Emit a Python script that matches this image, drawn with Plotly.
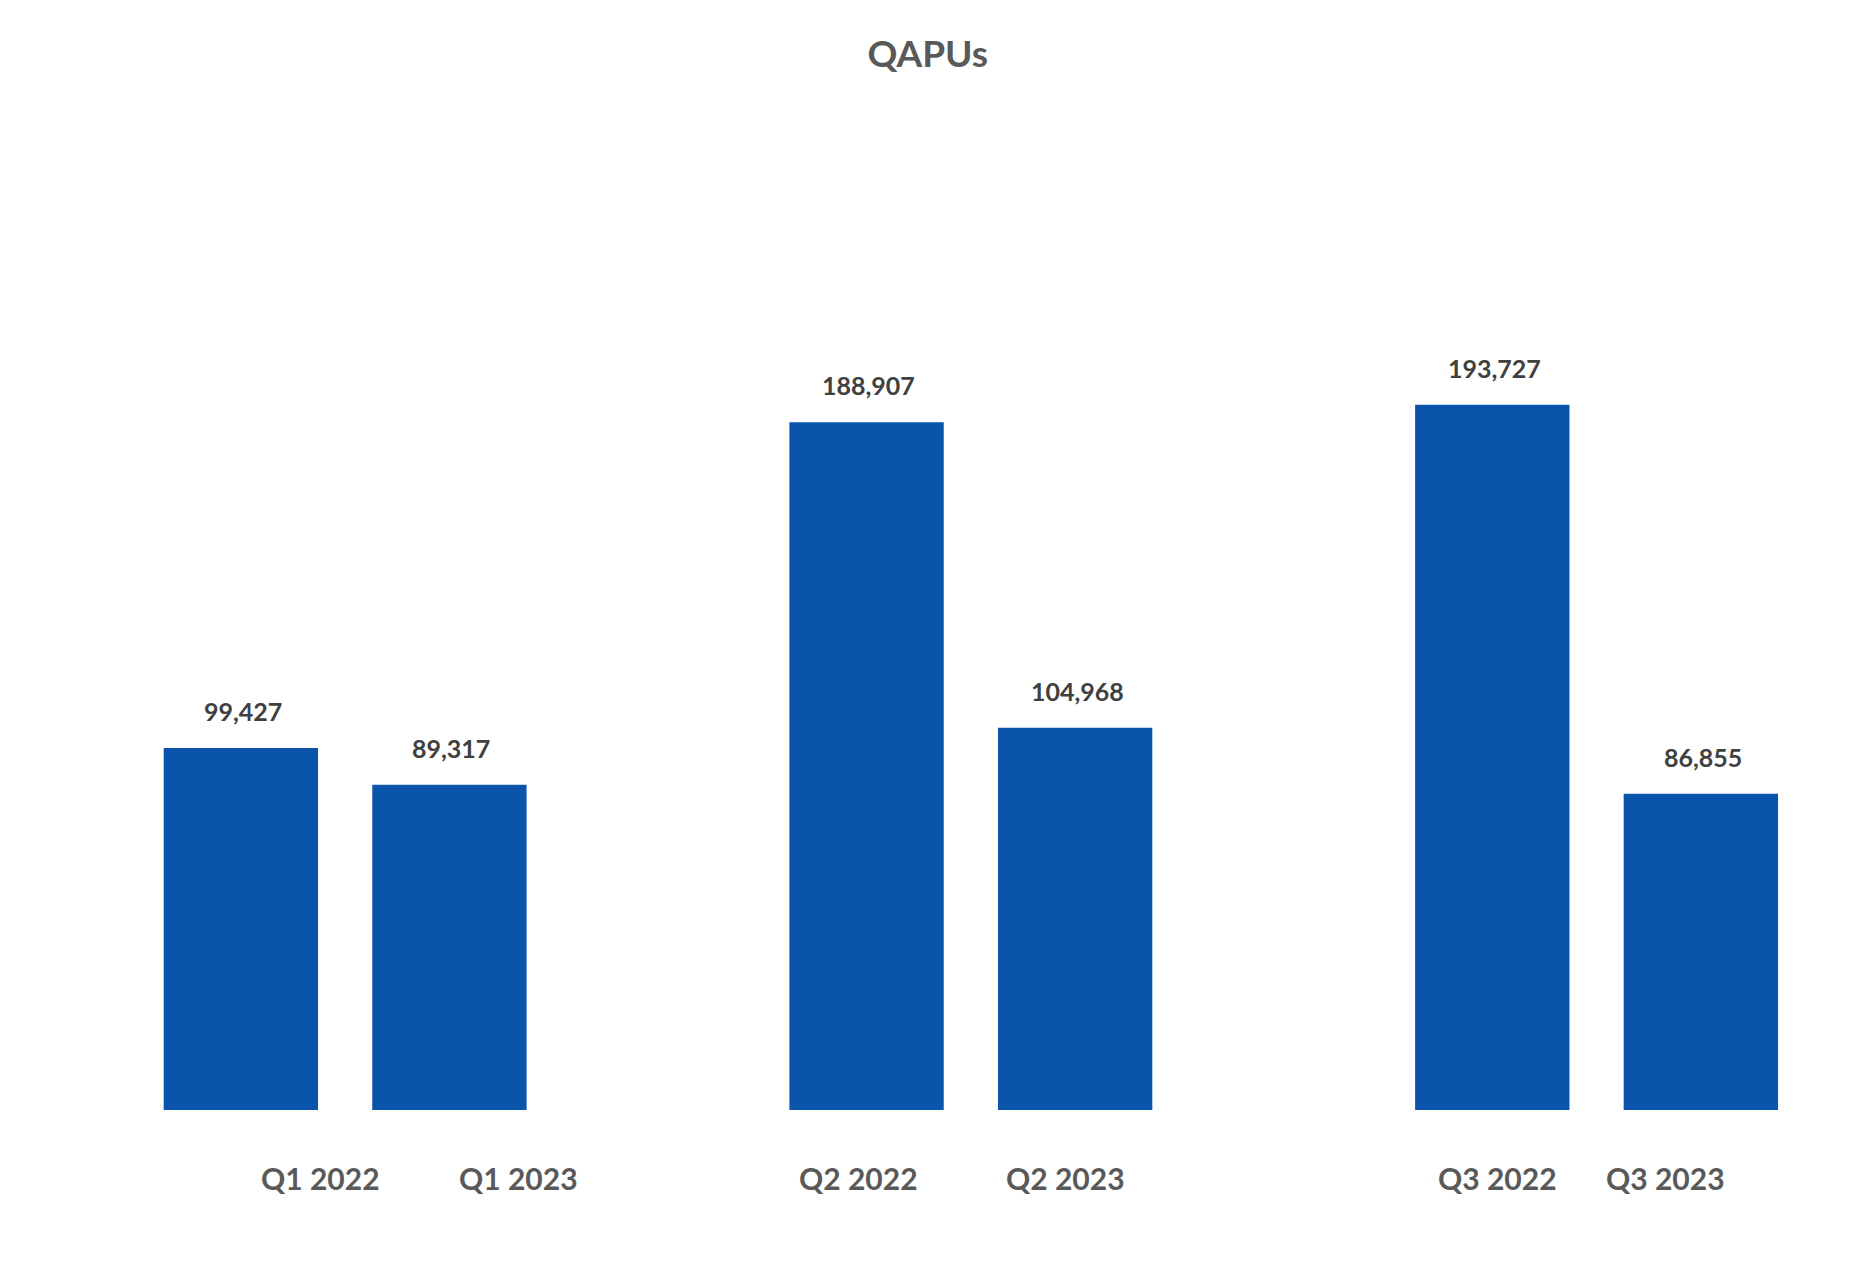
import plotly.graph_objects as go

categories = ["Q1 2022", "Q1 2023", "Q2 2022", "Q2 2023", "Q3 2022", "Q3 2023"]
values = [99427, 89317, 188907, 104968, 193727, 86855]
positions = [0, 1, 3, 4, 6, 7]  # slots: gap between quarter groups
label_xshift = [80, 69, -8, -10, 5, -35]  # pixel offsets of category labels (style)

BAR = "#0A55AB"
FONT = "Lato"

fig = go.Figure(go.Bar(
    x=positions, y=values, width=0.74,
    marker=dict(color=BAR, line=dict(width=0)),
    hoverinfo="skip",
))

for p, v in zip(positions, values):
    fig.add_annotation(x=p, y=v, xref="x", yref="y", text=f"{v:,}",
                       showarrow=False, yanchor="bottom", yshift=20, xshift=2,
                       font=dict(family=FONT, size=25, color="#404040", weight="bold"))

for p, c, dx in zip(positions, categories, label_xshift):
    fig.add_annotation(x=p, y=0, xref="x", yref="y", text=c, showarrow=False,
                       yanchor="top", yshift=-48, xshift=dx,
                       font=dict(family=FONT, size=30, color="#595959", weight="bold"))

fig.update_layout(
    width=1858, height=1264,
    paper_bgcolor="white", plot_bgcolor="white",
    margin=dict(l=66, r=40, t=92, b=162),
    title=dict(text="QAPUs", x=0.495, xanchor="center", y=1 - 46 / 1264, yanchor="middle",
               xref="container",
               font=dict(family=FONT, size=37, color="#595959", weight="bold")),
    xaxis=dict(range=[-0.8, 7.6], showticklabels=False, showgrid=False, zeroline=False,
               showline=False, ticks=""),
    yaxis=dict(range=[0, 277400], showticklabels=False, showgrid=False, zeroline=False,
               showline=False, ticks=""),
    showlegend=False,
)

fig.write_html("out.html")
